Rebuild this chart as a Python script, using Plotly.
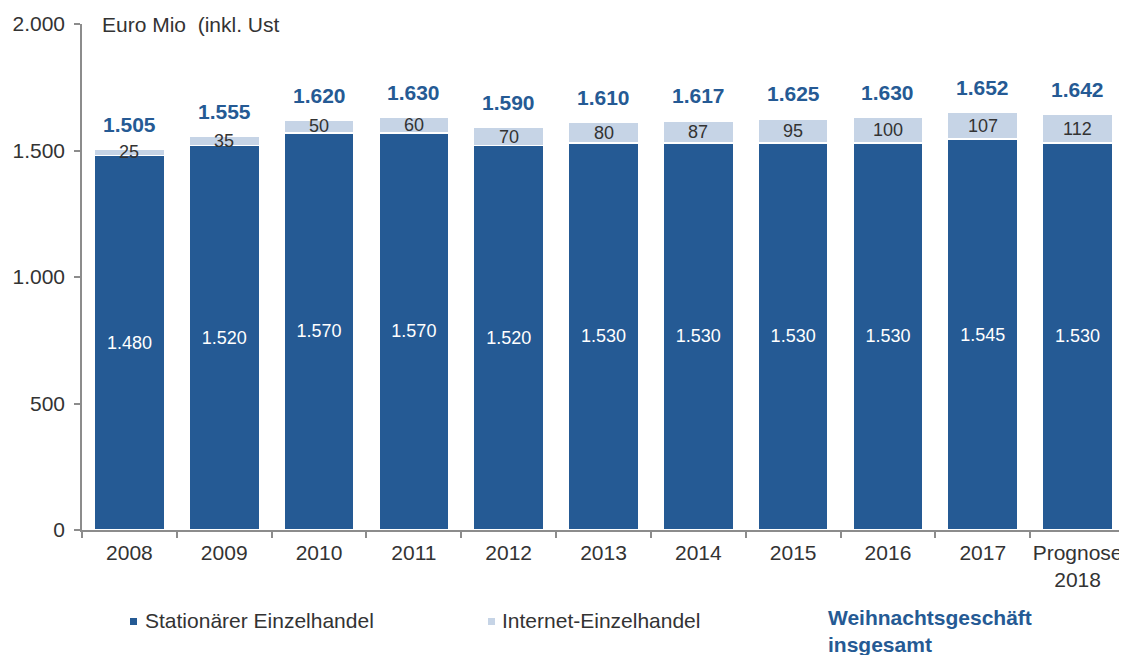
import plotly.graph_objects as go

years = ["2008", "2009", "2010", "2011", "2012", "2013", "2014", "2015", "2016", "2017", "Prognose<br>2018"]
stationaer = [1480, 1520, 1570, 1570, 1520, 1530, 1530, 1530, 1530, 1545, 1530]
internet = [25, 35, 50, 60, 70, 80, 87, 95, 100, 107, 112]
gesamt = [1505, 1555, 1620, 1630, 1590, 1610, 1617, 1625, 1630, 1652, 1642]
y_ticks = [0, 500, 1000, 1500, 2000]

DARK = "#255a94"
LIGHT = "#c6d4e6"
TXT = "#333333"
AX = "#8c8c8c"
FONT = "Liberation Sans, Arial, sans-serif"

def de(n):
    return f"{n:,}".replace(",", ".")

W, H = 1127, 655
OFF = 8  # page body margin
# plot area in screen pixels
SX0, SX1, SY0, SY1 = 82, 1125, 24, 530
L, T = SX0 - OFF, SY0 - OFF
R = W - L - (SX1 - SX0)
B = H - T - (SY1 - SY0)
pw, ph = SX1 - SX0, SY1 - SY0

def px(x):
    return (x - SX0) / pw

def py(y):
    return (SY1 - y) / ph

fig = go.Figure()
fig.add_trace(go.Bar(
    x=years, y=stationaer, name="Stationärer Einzelhandel",
    marker=dict(color=DARK, line=dict(color="white", width=1.5)),
    text=[de(v) for v in stationaer], textposition="inside", insidetextanchor="middle",
    textfont=dict(color="white", size=18, family=FONT), textangle=0,
    showlegend=False, hoverinfo="skip",
))
fig.add_trace(go.Bar(
    x=years, y=internet, name="Internet-Einzelhandel",
    marker=dict(color=LIGHT, line=dict(color="white", width=1.5)),
    showlegend=False, hoverinfo="skip",
))

anns = []
for i, yr in enumerate(years):
    anns.append(dict(x=i, y=stationaer[i] + internet[i] / 2, xref="x", yref="y",
                     text=de(internet[i]), showarrow=False,
                     font=dict(size=18, color=TXT, family=FONT)))
    anns.append(dict(x=i, y=gesamt[i], xref="x", yref="y", yshift=25,
                     text="<b>" + de(gesamt[i]) + "</b>", showarrow=False,
                     font=dict(size=21, color=DARK, family=FONT)))

anns.append(dict(x=px(100), y=py(24), xref="paper", yref="paper", xanchor="left", yanchor="middle",
                 text="Euro Mio  (inkl. Ust", showarrow=False,
                 font=dict(size=21, color=TXT, family=FONT)))

# legend
anns.append(dict(x=px(143), y=py(620), xref="paper", yref="paper", xanchor="left", yanchor="middle",
                 text="Stationärer Einzelhandel", showarrow=False,
                 font=dict(size=21, color=TXT, family=FONT)))
anns.append(dict(x=px(500), y=py(620), xref="paper", yref="paper", xanchor="left", yanchor="middle",
                 text="Internet-Einzelhandel", showarrow=False,
                 font=dict(size=21, color=TXT, family=FONT)))
anns.append(dict(x=px(826), y=py(631), xref="paper", yref="paper", xanchor="left", yanchor="middle", align="left",
                 text="<b>Weihnachtsgeschäft<br>insgesamt</b>", showarrow=False,
                 font=dict(size=21, color=DARK, family=FONT)))

shapes = [
    dict(type="rect", xref="paper", yref="paper", x0=px(130), x1=px(137), y0=py(625), y1=py(618),
         fillcolor=DARK, line=dict(width=0)),
    dict(type="rect", xref="paper", yref="paper", x0=px(488), x1=px(495), y0=py(625), y1=py(618),
         fillcolor=LIGHT, line=dict(width=0)),
]

fig.update_layout(
    width=W, height=H, barmode="stack", bargap=0.26,
    margin=dict(l=L, r=R, t=T, b=B, autoexpand=False),
    plot_bgcolor="white", paper_bgcolor="white",
    annotations=anns, shapes=shapes,
    font=dict(family=FONT, color=TXT),
    xaxis=dict(type="category", range=[-0.5, len(years) - 0.5], showline=True, linecolor=AX,
               linewidth=1.5, ticks="outside",
               tickson="boundaries", ticklen=6, tickcolor=AX, tickwidth=1.5,
               tickfont=dict(size=21, color=TXT), tickangle=0, ticklabelstandoff=3,
               showgrid=False, fixedrange=True, automargin=False),
    yaxis=dict(range=[0, 2000], tickvals=y_ticks, ticktext=[de(v) for v in y_ticks],
               showline=True, linecolor=AX, linewidth=1.5, ticks="outside", ticklen=6,
               tickcolor=AX, tickwidth=1.5, tickfont=dict(size=21, color=TXT),
               ticklabelstandoff=5,
               showgrid=False, zeroline=False, fixedrange=True, automargin=False),
)

fig.write_html("out.html")
